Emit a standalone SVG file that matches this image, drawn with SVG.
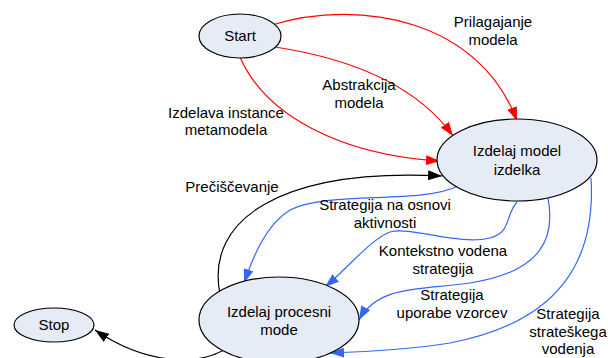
<svg xmlns="http://www.w3.org/2000/svg" width="608" height="358" viewBox="0 0 608 358">
  <style>
    .node ellipse { fill: #E6ECF6; stroke: #000; stroke-width: 1.2; }
    text { font-family: "Liberation Sans", Arial, sans-serif; font-size: 15px; fill: #000; text-anchor: middle; }
    .edge { fill: none; stroke-width: 1.2; }
    .red { stroke: #FF0000; }
    .blue { stroke: #3366FF; }
    .black { stroke: #000; }
  </style>
  <defs>
    <marker id="arrRed" viewBox="0 0 14 10" refX="14" refY="5" markerWidth="14" markerHeight="10" markerUnits="userSpaceOnUse" orient="auto">
      <path d="M0,0 L14,5 L0,10 z" fill="#FF0000"/>
    </marker>
    <marker id="arrBlue" viewBox="0 0 14 10" refX="14" refY="5" markerWidth="14" markerHeight="10" markerUnits="userSpaceOnUse" orient="auto">
      <path d="M0,0 L14,5 L0,10 z" fill="#3366FF"/>
    </marker>
    <marker id="arrBlack" viewBox="0 0 14 10" refX="14" refY="5" markerWidth="14" markerHeight="10" markerUnits="userSpaceOnUse" orient="auto">
      <path d="M0,0 L14,5 L0,10 z" fill="#000"/>
    </marker>
  </defs>

  <g id="connectors">
    <!-- Start -> Izdelaj model izdelka -->
    <path class="edge red" d="M272,25 C360,-2 480,20 517,121" marker-end="url(#arrRed)"/>
    <path class="edge red" d="M275,47 C360,60 420,90 453,136" marker-end="url(#arrRed)"/>
    <path class="edge red" d="M240,57 C265,115 340,155 440,161" marker-end="url(#arrRed)"/>
    <!-- Izdelaj procesni mode -> Izdelaj model izdelka -->
    <path class="edge black" d="M220,294 C205,220 280,168 442,176" marker-end="url(#arrBlack)"/>
    <!-- Izdelaj procesni mode -> Stop -->
    <path class="edge black" d="M224,350 C195,366 145,364 95,330" marker-end="url(#arrBlack)"/>
    <!-- Izdelaj model izdelka -> Izdelaj procesni mode -->
    <path class="edge blue" d="M458,186 C420,205 330,190 290,210 C265,225 252,260 244,283" marker-end="url(#arrBlue)"/>
    <path class="edge blue" d="M517,202 C505,215 512,232 490,238 C460,246 410,226 390,232 C370,240 350,266 325,287" marker-end="url(#arrBlue)"/>
    <path class="edge blue" d="M548,198 C556,240 540,272 470,283 C420,290 378,285 359,320" marker-end="url(#arrBlue)"/>
    <path class="edge blue" d="M591,178 C596,260 560,322 450,343 C420,348 370,352 330,353" marker-end="url(#arrBlue)"/>
  </g>

  <g id="edge-labels">
    <text x="493" y="27">Prilagajanje</text>
    <text x="493" y="45">modela</text>
    <text x="359" y="90">Abstrakcija</text>
    <text x="359" y="108">modela</text>
    <text x="226" y="118">Izdelava instance</text>
    <text x="226" y="135">metamodela</text>
    <text x="232" y="192">Prečiščevanje</text>
    <text x="385" y="210">Strategija na osnovi</text>
    <text x="385" y="228">aktivnosti</text>
    <text x="443" y="256">Kontekstno vodena</text>
    <text x="443" y="274">strategija</text>
    <text x="452" y="300">Strategija</text>
    <text x="452" y="318">uporabe vzorcev</text>
    <text x="568" y="319">Strategija</text>
    <text x="568" y="337">strateškega</text>
    <text x="568" y="354">vodenja</text>
  </g>

  <g id="start" class="node">
    <ellipse cx="240" cy="36" rx="41" ry="22"/>
    <text x="240" y="41">Start</text>
  </g>
  <g id="izdelaj-model-izdelka" class="node">
    <ellipse cx="517" cy="160" rx="80" ry="41"/>
    <text x="517" y="156">Izdelaj model</text>
    <text x="517" y="175">izdelka</text>
  </g>
  <g id="izdelaj-procesni-mode" class="node">
    <ellipse cx="279" cy="320" rx="80" ry="43"/>
    <text x="279" y="317">Izdelaj procesni</text>
    <text x="279" y="335">mode</text>
  </g>
  <g id="stop" class="node">
    <ellipse cx="54" cy="325" rx="40" ry="17"/>
    <text x="54" y="330">Stop</text>
  </g>
</svg>
